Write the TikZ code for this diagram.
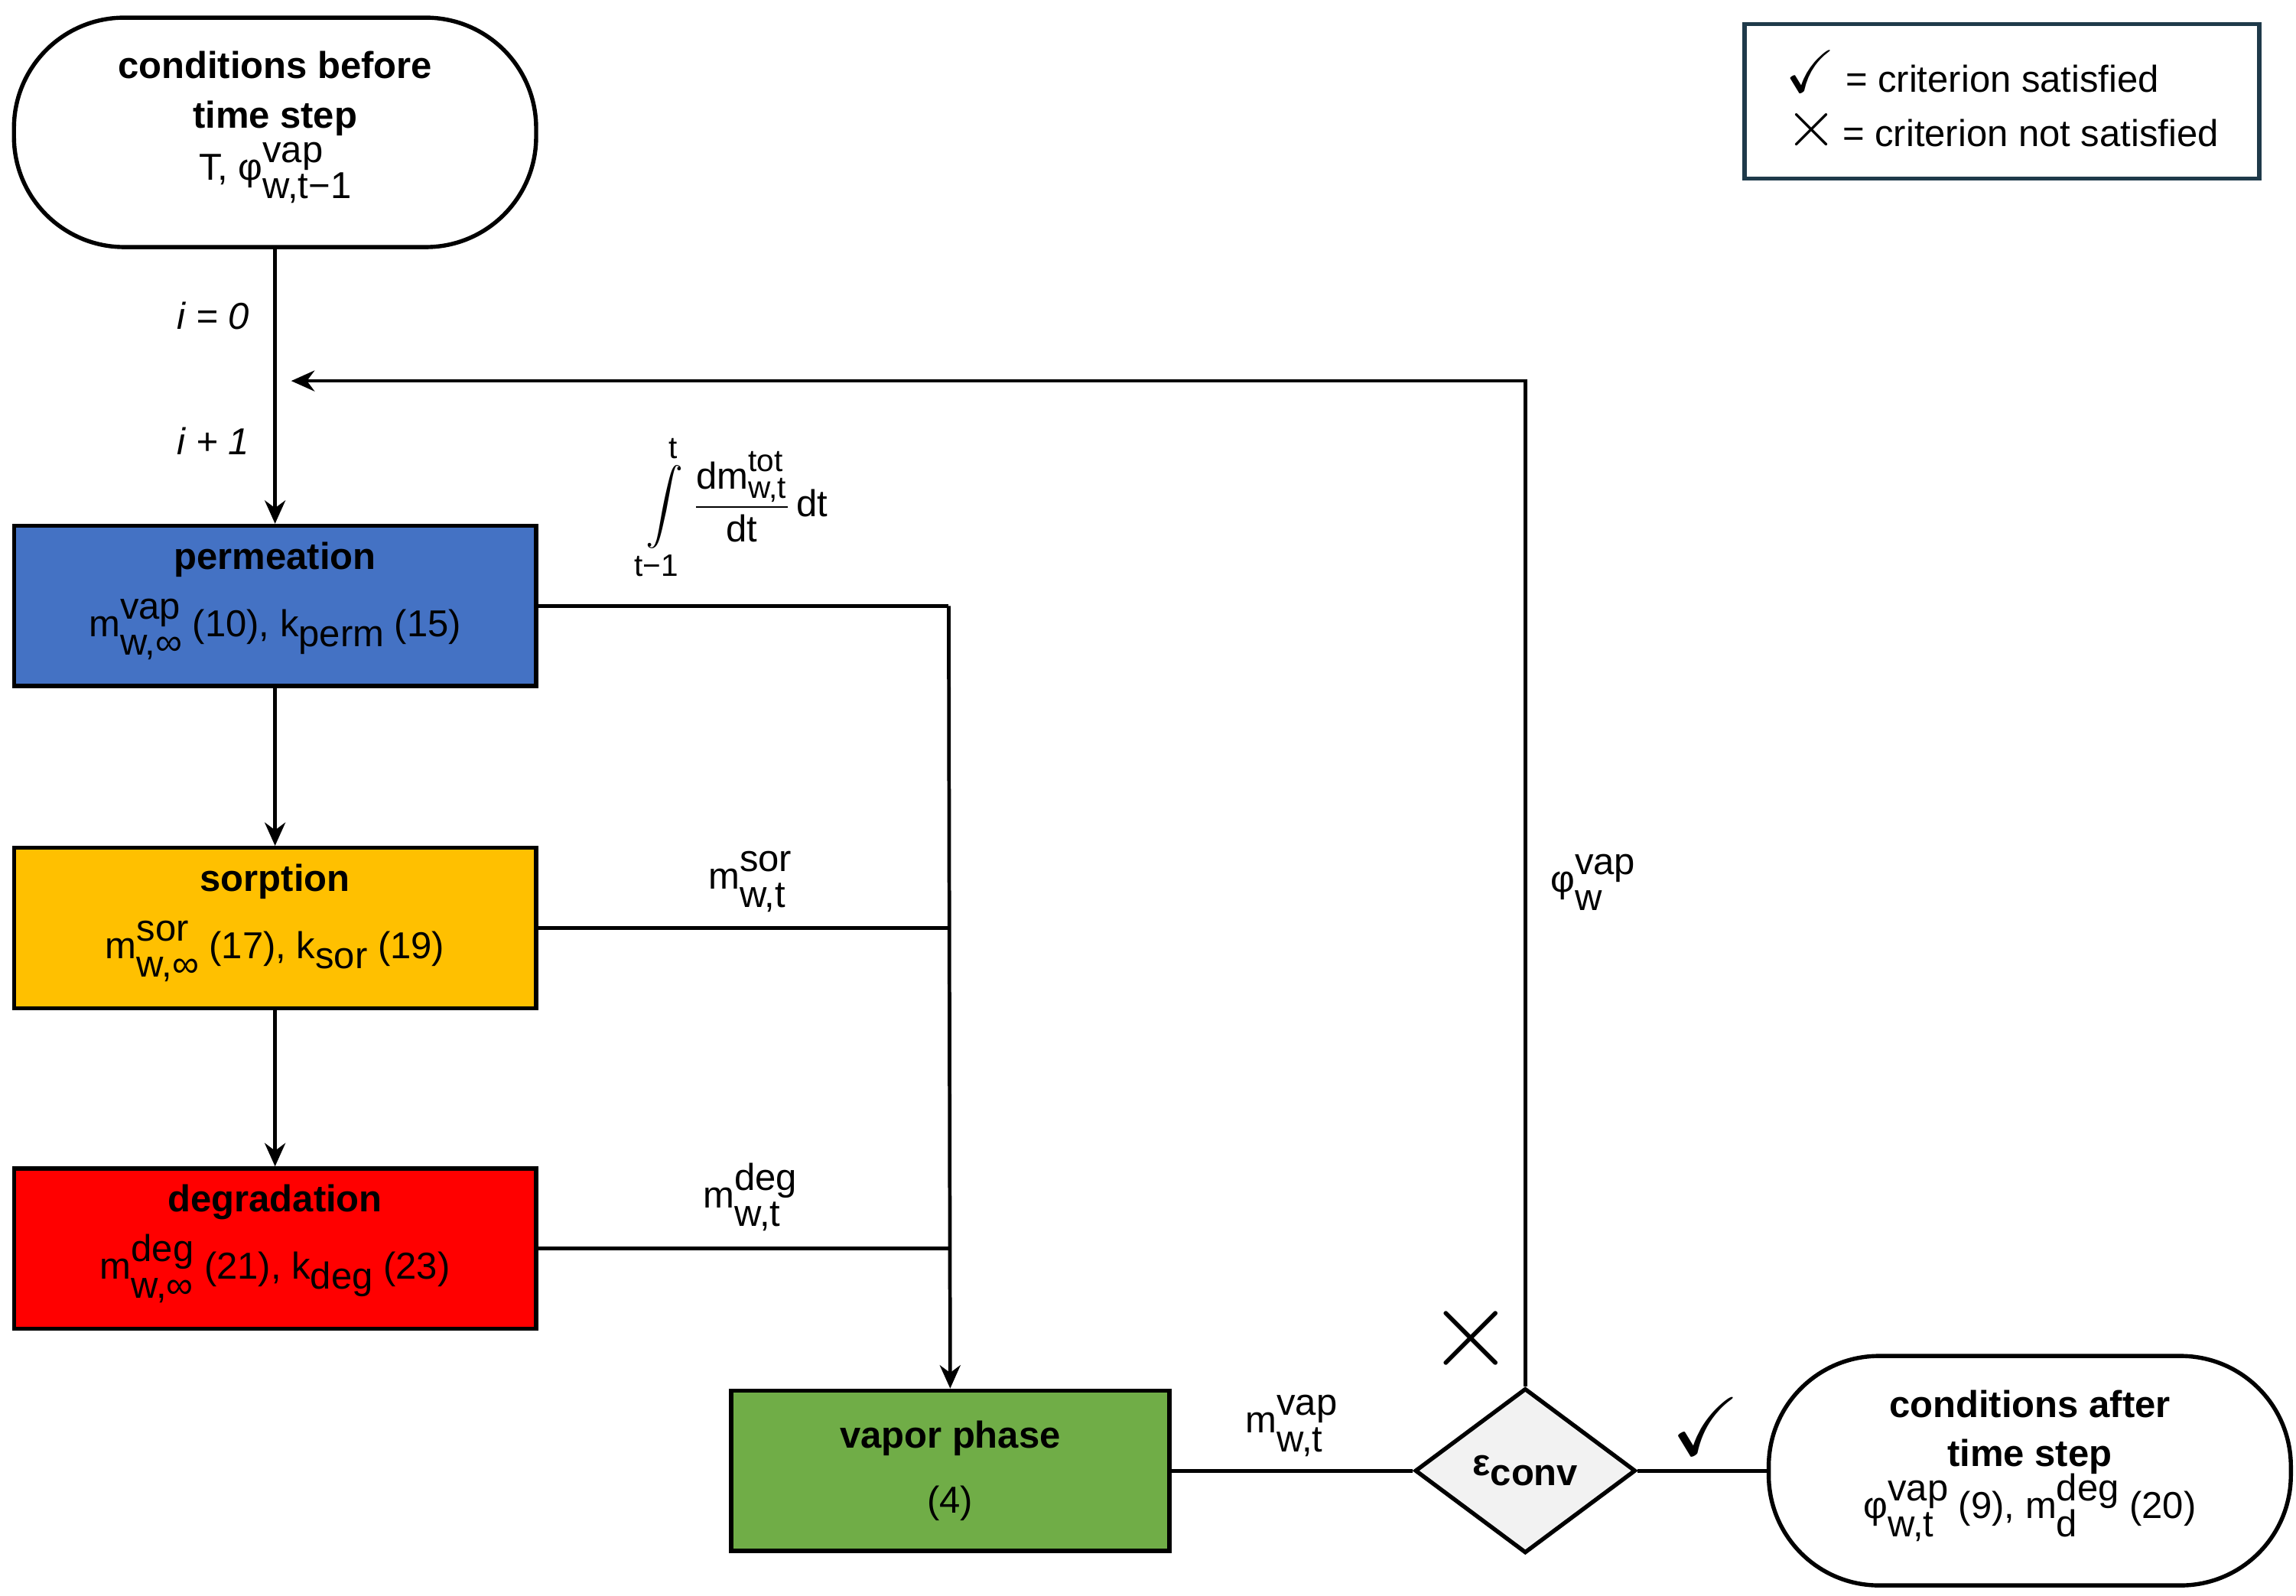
\documentclass[tikz,border=0pt]{standalone}
\usepackage{fontspec}
\usepackage{amsmath,amssymb}
\setmainfont{Liberation Sans}
\usetikzlibrary{shapes.geometric,arrows.meta}
\definecolor{cperm}{HTML}{4472C4}
\definecolor{csor}{HTML}{FFC000}
\definecolor{cdeg}{HTML}{FF0000}
\definecolor{cvap}{HTML}{70AD47}
\definecolor{cdia}{HTML}{F2F2F2}
\definecolor{cleg}{HTML}{1F3A4A}
\newcommand\supsub[2]{\begin{tabular}{@{}l@{}}#1\\[-5pt]#2\end{tabular}}
\begin{document}
\begin{tikzpicture}[x=0.02cm,y=-0.02cm,
  every node/.style={font=\fontsize{14.5}{19}\selectfont, align=center, inner sep=0pt},
  box/.style={draw, line width=1.6pt, minimum width=355*0.02cm, minimum height=109*0.02cm},
  term/.style={draw, line width=1.6pt, rounded corners=1.5cm, minimum width=355*0.02cm, minimum height=156*0.02cm},
  ln/.style={line width=1.4pt},
  arr/.style={ln,-{Stealth[length=9pt,width=8pt]}}]
\useasboundingbox (0,0) rectangle (1561,1085);
\node[term] (start) at (187,90) {\textbf{conditions before}\\\textbf{time step}\\[-4pt]T, φ\supsub{vap}{w,t−1}};
\node[box,fill=cperm] (perm) at (187,412) {\textbf{permeation}\\[2pt]m\supsub{vap}{w,∞} (10), k\raisebox{-0.5ex}{perm} (15)};
\node[box,fill=csor] (sor) at (187,631) {\textbf{sorption}\\[2pt]m\supsub{sor}{w,∞} (17), k\raisebox{-0.5ex}{sor} (19)};
\node[box,fill=cdeg] (deg) at (187,849) {\textbf{degradation}\\[2pt]m\supsub{deg}{w,∞} (21), k\raisebox{-0.5ex}{deg} (23)};
\node[box,fill=cvap,minimum width=298*0.02cm] (vap) at (646,1000) {\textbf{vapor phase}\\[6pt](4)};
\node[diamond,draw,fill=cdia,line width=1.6pt,minimum width=150*0.02cm,minimum height=112*0.02cm,aspect=1.34] (conv) at (1037,1000) {\textbf{ε\raisebox{-0.5ex}{conv}}};
\node[term] (end) at (1380,1000) {\textbf{conditions after}\\\textbf{time step}\\[-4pt]φ\supsub{vap}{w,t} (9), m\supsub{deg}{d} (20)};
\node[draw=cleg,line width=1.6pt,minimum width=350*0.02cm,minimum height=105*0.02cm,align=left] (leg) at (1361,69) {\scalebox{1.6}{$\checkmark$} = criterion satisfied\\[2pt]\scalebox{1.8}{$\times$}\hspace{-2pt} = criterion not satisfied};
\coordinate (j1) at (645,412);
\coordinate (j2) at (645,631);
\coordinate (j3) at (645,849);
\coordinate (c1) at (1037,259);
\coordinate (c2) at (198,259);
\draw[arr] (start) -- (perm);
\draw[arr] (perm) -- (sor);
\draw[arr] (sor) -- (deg);
\draw[ln] (perm.east) -- (j1);
\draw[ln] (sor.east) -- (j2);
\draw[ln] (deg.east) -- (j3);
\draw[arr] (j1) -- (vap.north);
\draw[ln] (vap) -- (conv);
\draw[ln] (conv) -- (end);
\draw[arr] (conv.north) -- (c1) -- (c2);
\node at (145,215) {\textit{i = 0}};
\node at (145,300) {\textit{i + 1}};
\node at (500,345) {$\displaystyle\int\limits_{\text{\large t−1}}^{\text{\large t}}\frac{\text{dm}^{\text{\large tot}}_{\text{\large w,t}}}{\text{dt}}\,\text{dt}$};
\node at (510,598) {m\supsub{sor}{w,t}};
\node at (510,815) {m\supsub{deg}{w,t}};
\node at (878,968) {m\supsub{vap}{w,t}};
\node at (1083,600) {φ\supsub{vap}{w}};
\node at (1000,910) {\scalebox{3}{$\times$}};
\node at (1160,970) {\scalebox{2.2}{$\checkmark$}};
\end{tikzpicture}
\end{document}
